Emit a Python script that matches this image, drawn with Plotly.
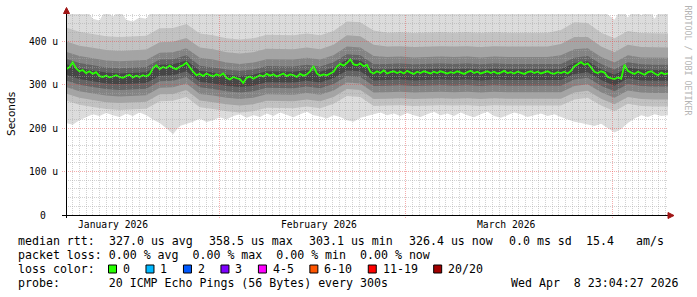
import math
import pandas as pd
import plotly.graph_objects as go

# ---------------- data (values in microseconds) ----------------
X0 = pd.Timestamp("2026-01-08 23:24")
X1 = pd.Timestamp("2026-04-09 09:00")

median_rtt = [
    336, 340, 352, 338, 331, 334, 327, 331, 325, 329, 320, 318, 321, 317, 319, 322, 318, 316, 320, 323,
    317, 321, 318, 322, 319, 324, 338, 345, 336, 341, 338, 344, 339, 336, 342, 345, 351, 340, 330, 322,
    325, 320, 326, 322, 319, 324, 321, 326, 316, 312, 318, 315, 313, 304, 316, 319, 314, 318, 322, 319,
    325, 321, 324, 319, 323, 326, 320, 324, 322, 318, 325, 321, 324, 331, 343, 326, 321, 324, 322, 327,
    330, 342, 348, 344, 350, 358.5, 347, 345, 349, 343, 346, 330, 326, 331, 327, 333, 326, 329, 331, 327,
    330, 326, 332, 328, 325, 330, 327, 331, 328, 326, 330, 327, 331, 328, 326, 329, 327, 331, 328, 325,
    329, 332, 327, 330, 326, 329, 331, 327, 330, 326, 328, 332, 327, 329, 326, 330, 328, 325, 329, 331,
    327, 330, 326, 329, 331, 327, 325, 329, 327, 330, 326, 332, 342, 347, 352, 346, 349, 340, 330, 327,
    331, 328, 318, 315, 313, 317, 314, 346, 332, 328, 325, 330, 327, 323, 329, 331, 326, 322, 328, 324,
    326.4,
]

# daily envelope of all pings
smoke_min = [212, 208, 218, 225, 232, 228, 235, 230, 226, 233,
             228, 236, 230, 220, 212, 200, 186, 205, 210, 215,
             222, 214, 218, 225, 220, 228, 232, 224, 230, 226,
             234, 228, 236, 230, 225, 232, 238, 230, 227, 222,
             230, 226, 218, 215, 224, 228, 232, 236, 230, 234,
             228, 235, 230, 226, 232, 238, 230, 234, 228, 236,
             230, 225, 232, 238, 228, 224, 230, 236, 232, 226,
             230, 234, 228, 232, 226, 220, 215, 212, 208, 205,
             210, 200, 190, 198, 212, 222, 230, 226, 232, 228,
             230]
smoke_max = [475, 475, 470, 475, 452, 448, 475, 456, 475, 450,
             446, 455, 452, 475, 475, 475, 475, 475, 475, 475,
             475, 475, 475, 475, 475, 475, 475, 475, 475, 475,
             475, 475, 475, 475, 475, 475, 475, 475, 475, 475,
             475, 475, 475, 475, 475, 475, 475, 475, 475, 475,
             475, 475, 475, 475, 475, 475, 475, 475, 475, 475,
             475, 475, 475, 475, 475, 475, 475, 475, 475, 475,
             475, 475, 475, 475, 475, 475, 475, 475, 475, 475,
             475, 462, 450, 475, 455, 475, 460, 475, 452, 475,
             475]

# two-day inner smoke bands (pairs of ranked pings)
smoke_lo2 = [264, 254, 249, 244, 242, 243, 245, 262, 263, 272, 248, 244, 239, 236, 239, 247, 246, 246, 250, 246,
             256, 274, 272, 251, 252, 253, 251, 252, 253, 252, 253, 251, 253, 252, 252, 252, 252, 252, 266, 270,
             252, 239, 256, 251, 250, 250]
smoke_hi2 = [432, 422, 417, 412, 410, 411, 413, 430, 431, 440, 418, 414, 407, 404, 407, 415, 414, 414, 418, 414,
             424, 446, 444, 425, 420, 421, 419, 420, 421, 420, 421, 419, 421, 420, 420, 420, 420, 426, 444, 442,
             420, 407, 424, 419, 418, 418]
smoke_lo3 = [280, 270, 265, 260, 258, 259, 261, 278, 279, 288, 264, 260, 255, 252, 255, 263, 262, 262, 266, 262,
             272, 290, 288, 267, 268, 269, 267, 268, 269, 268, 269, 267, 269, 268, 268, 268, 268, 268, 282, 286,
             268, 255, 272, 267, 266, 266]
smoke_hi3 = [400, 390, 385, 380, 378, 379, 381, 398, 399, 408, 386, 382, 375, 372, 375, 383, 382, 382, 386, 382,
             392, 414, 412, 392, 388, 389, 387, 388, 389, 388, 389, 387, 389, 388, 388, 388, 388, 394, 410, 410,
             388, 375, 392, 387, 386, 386]
smoke_lo4 = [295, 285, 280, 275, 273, 274, 276, 293, 294, 303, 279, 275, 270, 267, 270, 278, 277, 277, 281, 277,
             287, 305, 303, 282, 283, 284, 282, 283, 284, 283, 284, 282, 284, 283, 283, 283, 283, 283, 297, 301,
             283, 270, 287, 282, 281, 281]
smoke_hi4 = [376, 366, 361, 356, 354, 355, 357, 374, 375, 384, 362, 358, 351, 348, 351, 359, 358, 358, 362, 358,
             368, 388, 386, 366, 364, 365, 363, 364, 365, 364, 365, 363, 365, 364, 364, 364, 364, 368, 382, 384,
             364, 351, 368, 363, 362, 362]
smoke_lo5 = [310, 300, 295, 290, 288, 289, 291, 308, 309, 318, 294, 290, 285, 282, 285, 293, 292, 292, 296, 292,
             302, 320, 318, 297, 298, 299, 297, 298, 299, 298, 299, 297, 299, 298, 298, 298, 298, 298, 312, 316,
             298, 285, 302, 297, 296, 296]
smoke_hi5 = [360, 350, 345, 340, 338, 339, 341, 358, 359, 368, 344, 340, 335, 332, 335, 343, 342, 342, 346, 342,
             352, 370, 368, 347, 348, 349, 347, 348, 349, 348, 349, 347, 349, 348, 348, 348, 348, 348, 362, 366,
             348, 335, 352, 347, 346, 346]
smoke_lo6 = [323, 313, 308, 303, 301, 302, 304, 321, 322, 331, 307, 303, 298, 295, 298, 306, 305, 305, 309, 305,
             315, 333, 331, 310, 311, 312, 310, 311, 312, 311, 312, 310, 312, 311, 311, 311, 311, 311, 325, 329,
             311, 298, 315, 310, 309, 309]
smoke_hi6 = [348, 338, 333, 328, 326, 327, 329, 346, 347, 356, 332, 328, 323, 320, 323, 331, 330, 330, 334, 330,
             340, 358, 356, 335, 336, 337, 335, 336, 337, 336, 337, 335, 337, 336, 336, 336, 336, 336, 350, 354,
             336, 323, 340, 335, 334, 334]

y_ticks = [0, 100, 200, 300, 400]
y_tick_labels = ["0", "100 u", "200 u", "300 u", "400 u"]
month_labels = ["January 2026", "February 2026", "March 2026"]
month_label_dates = ["2026-01-16", "2026-02-16", "2026-03-16"]
loss_labels = ["0", "1", "2", "3", "4-5", "6-10", "11-19", "20/20"]
loss_colors = ["#26ff00", "#00b8ff", "#0059ff", "#7e00ff", "#ff00ff", "#ff5500", "#ff0000", "#a10000"]

line1 = [("median rtt:", 16), ("327.0 us avg", 107.3), ("358.5 us max", 207.3), ("303.1 us min", 307.3),
         ("326.4 us now", 407), ("0.0 ms sd", 507), ("15.4", 584), ("am/s", 634)]
line2 = "packet loss: 0.00 % avg  0.00 % max  0.00 % min  0.00 % now"
line4 = "probe:       20 ICMP Echo Pings (56 Bytes) every 300s"
stamp = "Wed Apr  8 23:04:27 2026"

# ---------------- geometry ----------------
W, H = 697, 297
L, R, T, B = 66, 29, 14, 82
PW = W - L - R
PH = H - T - B
YMAX = 463.0
MONO = "DejaVu Sans Mono"
MINOR = "rgba(165,165,165,0.5)"
MAJOR = "rgba(230,70,70,0.45)"


def px(x):
    return (x - L) / PW


def py(y):
    return (H - B - y) / PH


def nb(s):
    return s.replace(" ", "\u00a0")


med_t = pd.date_range(X0, X1, periods=len(median_rtt))
env_t = pd.date_range(X0, X1, periods=len(smoke_min))
band_t = pd.date_range(X0, X1, periods=len(smoke_lo2))

fig = go.Figure()
layers = [
    (env_t, smoke_min, smoke_max, "#dcdcdc"),
    (band_t, smoke_lo2, smoke_hi2, "#c2c2c2"),
    (band_t, smoke_lo3, smoke_hi3, "#a4a4a4"),
    (band_t, smoke_lo4, smoke_hi4, "#848484"),
    (band_t, smoke_lo5, smoke_hi5, "#646464"),
    (band_t, smoke_lo6, smoke_hi6, "#464646"),
]
for t, lo, hi, c in layers:
    fig.add_trace(go.Scatter(x=t, y=lo, mode="lines", line=dict(width=0, color=c),
                             hoverinfo="skip", showlegend=False))
    fig.add_trace(go.Scatter(x=t, y=hi, mode="lines", line=dict(width=0, color=c),
                             fill="tonexty", fillcolor=c, hoverinfo="skip", showlegend=False))

fig.add_trace(go.Scatter(x=med_t, y=median_rtt, mode="lines",
                         line=dict(color="#26ff00", width=1.8), showlegend=False))

shapes = []
annotations = []
span = (X1 - X0).total_seconds()

# vertical grid (daily minor, monthly major)
day = X0.normalize() + pd.Timedelta(days=1)
while day < X1:
    frac = (day - X0).total_seconds() / span
    xp = math.floor(L + frac * PW) + 0.5
    major = day.day == 1
    shapes.append(dict(type="line", xref="paper", yref="paper", x0=px(xp), x1=px(xp),
                       y0=py(H - B + (3 if major else 0)), y1=py(T), layer="above",
                       line=dict(color=MAJOR if major else MINOR, width=1, dash="1px,1px")))
    day += pd.Timedelta(days=1)

# horizontal grid
for v in range(20, 461, 20):
    yp = math.floor(H - B - v * PH / YMAX) + 0.5
    major = v % 100 == 0
    shapes.append(dict(type="line", xref="paper", yref="paper", x0=px(L - (4 if major else 0)), x1=px(L + PW),
                       y0=py(yp), y1=py(yp), layer="above",
                       line=dict(color=MAJOR if major else MINOR, width=1, dash="1px,1px")))

# axes
shapes.append(dict(type="line", xref="paper", yref="paper", x0=px(66.5), x1=px(66.5), y0=py(218), y1=py(11),
                   line=dict(color="black", width=1), layer="above"))
shapes.append(dict(type="line", xref="paper", yref="paper", x0=px(62), x1=px(668), y0=py(215.5), y1=py(215.5),
                   line=dict(color="black", width=1), layer="above"))
shapes.append(dict(type="path", xref="paper", yref="paper",
                   path=f"M {px(63.5)},{py(13.5)} L {px(69.5)},{py(13.5)} L {px(66.5)},{py(7.5)} Z",
                   fillcolor="#a01515", line=dict(color="#a01515", width=1), layer="above"))
shapes.append(dict(type="path", xref="paper", yref="paper",
                   path=f"M {px(668)},{py(212.5)} L {px(668)},{py(218.5)} L {px(674)},{py(215.5)} Z",
                   fillcolor="#a01515", line=dict(color="#a01515", width=1), layer="above"))

# y tick labels
for v, lab in zip(y_ticks, y_tick_labels):
    ypix = H - B - v * PH / YMAX
    xr = 59.5 if lab != "0" else 47.6
    annotations.append(dict(text=nb(lab), xref="paper", yref="paper", x=px(xr), y=py(ypix),
                            xanchor="right", yanchor="middle", showarrow=False,
                            font=dict(family=MONO, size=9.7, color="black")))

# month labels
for lab, d in zip(month_labels, month_label_dates):
    frac = (pd.Timestamp(d) - X0).total_seconds() / span
    annotations.append(dict(text=nb(lab), xref="paper", yref="paper", x=frac, y=py(224.5),
                            xanchor="center", yanchor="middle", showarrow=False,
                            font=dict(family=MONO, size=9.7, color="black")))

# axis title and watermark
annotations.append(dict(text="Seconds", xref="paper", yref="paper", x=px(11), y=py(114), textangle=-90,
                        xanchor="center", yanchor="middle", showarrow=False,
                        font=dict(family="DejaVu Sans", size=10.5, color="black")))
annotations.append(dict(text=nb("RRDTOOL / TOBI OETIKER"), xref="paper", yref="paper", x=px(687.5), y=py(60),
                        textangle=90, xanchor="center", yanchor="middle", showarrow=False,
                        font=dict(family=MONO, size=8.3, color="#b4b4b4")))

# legend lines
LF = 11.6
CW = 6.98
for txt, x in line1:
    annotations.append(dict(text=nb(txt), xref="paper", yref="paper", x=px(x), y=py(241),
                            xanchor="left", yanchor="middle", showarrow=False,
                            font=dict(family=MONO, size=LF, color="black")))
annotations.append(dict(text=nb(line2), xref="paper", yref="paper", x=px(16), y=py(255),
                        xanchor="left", yanchor="middle", showarrow=False,
                        font=dict(family=MONO, size=LF, color="black")))
annotations.append(dict(text=nb("loss color:"), xref="paper", yref="paper", x=px(16), y=py(269),
                        xanchor="left", yanchor="middle", showarrow=False,
                        font=dict(family=MONO, size=LF, color="black")))
bx = 108.5
for lab, col in zip(loss_labels, loss_colors):
    shapes.append(dict(type="rect", xref="paper", yref="paper", x0=px(bx), x1=px(bx + 8),
                       y0=py(273), y1=py(265), fillcolor=col, line=dict(color="black", width=1)))
    annotations.append(dict(text=nb(lab), xref="paper", yref="paper", x=px(bx + 12.5), y=py(269),
                            xanchor="left", yanchor="middle", showarrow=False,
                            font=dict(family=MONO, size=LF, color="black")))
    bx = bx + 12.5 + CW * len(lab) + 18
annotations.append(dict(text=nb(line4), xref="paper", yref="paper", x=px(16), y=py(283),
                        xanchor="left", yanchor="middle", showarrow=False,
                        font=dict(family=MONO, size=LF, color="black")))
annotations.append(dict(text=nb(stamp), xref="paper", yref="paper", x=px(680.5), y=py(283),
                        xanchor="right", yanchor="middle", showarrow=False,
                        font=dict(family=MONO, size=LF, color="black")))

fig.update_layout(
    width=W, height=H,
    margin=dict(l=L, r=R, t=T, b=B, pad=0),
    paper_bgcolor="white", plot_bgcolor="white",
    showlegend=False,
    xaxis=dict(range=[X0, X1], showgrid=False, zeroline=False, showline=False,
               showticklabels=False, ticks=""),
    yaxis=dict(range=[0, YMAX], showgrid=False, zeroline=False, showline=False,
               showticklabels=False, ticks=""),
    shapes=shapes,
    annotations=annotations,
)

fig.write_html("out.html")
